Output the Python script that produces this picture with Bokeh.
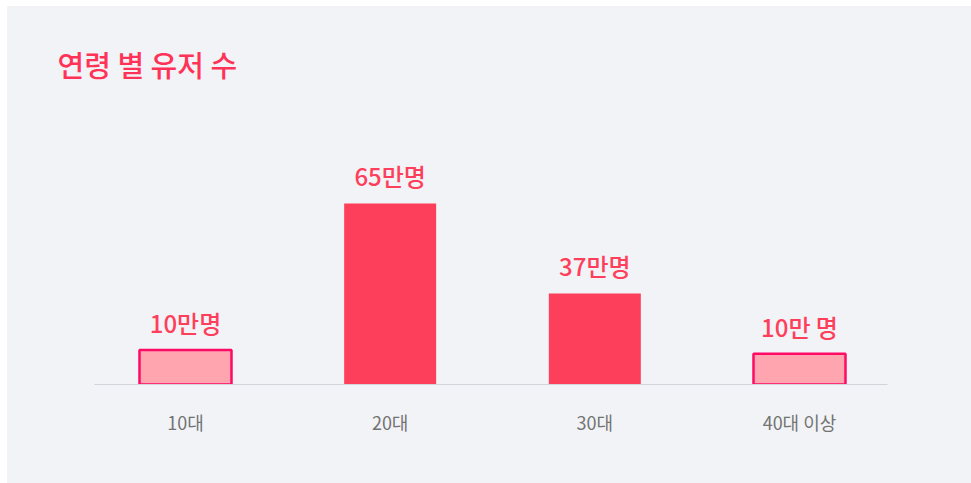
from bokeh.plotting import figure
from bokeh.models import ColumnDataSource, Range1d, FixedTicker
from bokeh.core.properties import value
from bokeh.embed import file_html
from bokeh.resources import INLINE

# ---- data ----
categories = ["10대", "20대", "30대", "40대 이상"]
value_labels = ["10만명", "65만명", "37만명", "10만 명"]
bar_heights = [12.4, 65, 32.7, 11.0]   # heights as drawn in the picture (만명 scale)
highlight = [False, True, True, False]

FONT = "Noto Sans CJK KR Medium, Noto Sans CJK KR"
FONT_REG = "Noto Sans CJK KR"
RED = "#fe3f5b"
PINK = "#ffa5b0"
PINK_LINE = "#ff0a64"
BG = "#f2f3f7"

xs = list(range(len(categories)))
fills = [RED if h else PINK for h in highlight]
lines = [RED if h else PINK_LINE for h in highlight]
lwidths = [0 if h else 2.5 for h in highlight]

src = ColumnDataSource(dict(x=xs, top=bar_heights, fill=fills, line=lines, lw=lwidths,
                            label=value_labels))

p = figure(width=964, height=477, output_backend="svg", toolbar_location=None,
           x_range=Range1d(-0.4446, 3.43), y_range=Range1d(0, 95.5),
           min_border_left=87, min_border_right=84, min_border_top=112, min_border_bottom=99)
p.margin = (6, 0, 0, 7)
p.styles = {"background-color": BG}
p.border_fill_color = None
p.background_fill_color = None
p.outline_line_color = None
p.grid.visible = False
p.yaxis.visible = False

p.title.text = "연령 별 유저 수"
p.title.align = "left"
p.title.offset = -37
p.title.vertical_align = "middle"
p.title.standoff = 66
p.title.text_font = FONT
p.title.text_font_size = "29px"
p.title.text_font_style = "normal"
p.title.text_color = "#ff3358"

p.vbar(x="x", top="top", bottom=0, width=0.4495, source=src,
       fill_color="fill", line_color="line", line_width="lw")

p.text(x="x", y="top", text="label", source=src, text_align="center",
       text_baseline="bottom", y_offset=-10, text_color=RED,
       text_font=value(FONT), text_font_size="24px", text_font_style="normal")

ax = p.xaxis[0]
ax.ticker = FixedTicker(ticks=xs)
ax.major_label_overrides = {i: c for i, c in zip(xs, categories)}
ax.major_tick_line_color = None
ax.minor_tick_line_color = None
ax.axis_line_color = "#d3d3db"
ax.axis_line_width = 1
ax.major_label_standoff = 18
ax.major_label_text_font = FONT_REG
ax.major_label_text_font_size = "18px"
ax.major_label_text_color = "#737373"

open("out.html", "w").write(file_html(p, INLINE))
